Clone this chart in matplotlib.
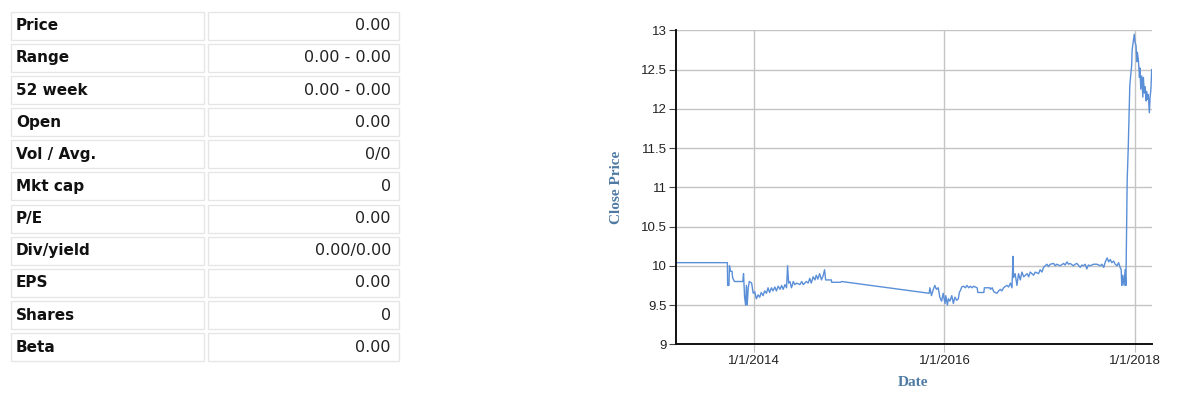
import matplotlib
matplotlib.use("Agg")
import matplotlib.pyplot as plt
import matplotlib.dates as mdates
from matplotlib.patches import Rectangle
import pandas as pd

# quote table
row_labels = ["Price", "Range", "52 week", "Open", "Vol / Avg.", "Mkt cap",
              "P/E", "Div/yield", "EPS", "Shares", "Beta"]
row_values = ["0.00", "0.00 - 0.00", "0.00 - 0.00", "0.00", "0/0", "0",
              "0.00", "0.00/0.00", "0.00", "0", "0.00"]

# close price series
dates = [
    "2013-03-08", "2013-09-20", "2013-09-21", "2013-09-26", "2013-09-28", "2013-10-02",
    "2013-10-08", "2013-10-10", "2013-10-17", "2013-11-18", "2013-11-21", "2013-11-25",
    "2013-11-29", "2013-12-02", "2013-12-05", "2013-12-09", "2013-12-13", "2013-12-22",
    "2013-12-28", "2014-01-03", "2014-01-09", "2014-01-16", "2014-01-22", "2014-01-28",
    "2014-02-04", "2014-02-10", "2014-02-17", "2014-02-23", "2014-03-01", "2014-03-08",
    "2014-03-14", "2014-03-21", "2014-03-27", "2014-04-03", "2014-04-10", "2014-04-16",
    "2014-04-22", "2014-04-29", "2014-05-05", "2014-05-09", "2014-05-13", "2014-05-18",
    "2014-05-24", "2014-05-31", "2014-06-06", "2014-06-13", "2014-06-25", "2014-07-02",
    "2014-07-08", "2014-07-20", "2014-07-27", "2014-08-02", "2014-08-08", "2014-08-15",
    "2014-08-22", "2014-08-27", "2014-09-02", "2014-09-09", "2014-09-16", "2014-09-22",
    "2014-09-28", "2014-10-02", "2014-10-24", "2014-10-25", "2014-11-28", "2014-12-02",
    "2015-11-03", "2015-11-06", "2015-11-12", "2015-11-19", "2015-11-25", "2015-12-01",
    "2015-12-08", "2015-12-14", "2015-12-21", "2015-12-27", "2016-01-03", "2016-01-06",
    "2016-01-12", "2016-01-16", "2016-01-22", "2016-01-29", "2016-02-04", "2016-02-10",
    "2016-02-17", "2016-02-23", "2016-02-27", "2016-03-04", "2016-03-07", "2016-03-14",
    "2016-03-21", "2016-03-27", "2016-04-03", "2016-04-09", "2016-04-16", "2016-04-22",
    "2016-04-29", "2016-05-05", "2016-05-08", "2016-05-31", "2016-06-02", "2016-06-23",
    "2016-06-25", "2016-07-02", "2016-07-08", "2016-07-20", "2016-07-27", "2016-08-02",
    "2016-08-08", "2016-08-15", "2016-08-22", "2016-08-28", "2016-09-03", "2016-09-10",
    "2016-09-16", "2016-09-20", "2016-09-22", "2016-09-28", "2016-10-05", "2016-10-11",
    "2016-10-18", "2016-10-24", "2016-10-31", "2016-11-13", "2016-11-19", "2016-11-25",
    "2016-12-08", "2016-12-14", "2016-12-27", "2017-01-02", "2017-01-09", "2017-01-15",
    "2017-01-28", "2017-02-03", "2017-02-10", "2017-02-23", "2017-03-01", "2017-03-07",
    "2017-03-20", "2017-04-02", "2017-04-08", "2017-04-15", "2017-04-21", "2017-04-27",
    "2017-05-10", "2017-05-16", "2017-05-23", "2017-06-05", "2017-06-11", "2017-06-17",
    "2017-06-24", "2017-06-30", "2017-07-06", "2017-07-13", "2017-07-26", "2017-08-08",
    "2017-08-21", "2017-08-27", "2017-09-03", "2017-09-09", "2017-09-16", "2017-09-22",
    "2017-09-28", "2017-10-04", "2017-10-11", "2017-10-17", "2017-10-24", "2017-10-30",
    "2017-11-05", "2017-11-09", "2017-11-11", "2017-11-15", "2017-11-20", "2017-11-24",
    "2017-11-27", "2017-11-30", "2017-12-02", "2017-12-06", "2017-12-10", "2017-12-12",
    "2017-12-16", "2017-12-19", "2017-12-21", "2017-12-25", "2017-12-29", "2018-01-01",
    "2018-01-05", "2018-01-08", "2018-01-10", "2018-01-14", "2018-01-18", "2018-01-20",
    "2018-01-23", "2018-01-27", "2018-01-31", "2018-02-02", "2018-02-06", "2018-02-09",
    "2018-02-13", "2018-02-15", "2018-02-19", "2018-02-21", "2018-02-25", "2018-02-28",
    "2018-03-03", "2018-03-06",
]
close = [
    10.04, 10.04, 9.75, 9.75, 10.00, 9.93,
    9.93, 9.85, 9.80, 9.80, 9.90, 9.60,
    9.50, 9.75, 9.50, 9.72, 9.80, 9.78,
    9.65, 9.67, 9.58, 9.63, 9.60, 9.66,
    9.62, 9.68, 9.65, 9.72, 9.66, 9.72,
    9.68, 9.73, 9.68, 9.74, 9.70, 9.75,
    9.70, 9.76, 9.72, 10.00, 9.78, 9.80,
    9.72, 9.80, 9.76, 9.78, 9.76, 9.80,
    9.76, 9.80, 9.78, 9.84, 9.78, 9.86,
    9.82, 9.88, 9.83, 9.90, 9.82, 9.87,
    9.95, 9.82, 9.82, 9.79, 9.79, 9.80,
    9.65, 9.72, 9.62, 9.70, 9.75, 9.70,
    9.72, 9.60, 9.55, 9.65, 9.52, 9.62,
    9.50, 9.58, 9.55, 9.62, 9.52, 9.60,
    9.56, 9.58, 9.66, 9.70, 9.73, 9.74,
    9.72, 9.75, 9.72, 9.74, 9.72, 9.74,
    9.73, 9.72, 9.66, 9.66, 9.72, 9.72,
    9.70, 9.72, 9.67, 9.65, 9.68, 9.70,
    9.68, 9.72, 9.74, 9.75, 9.73, 9.78,
    9.72, 10.12, 9.85, 9.90, 9.75, 9.90,
    9.82, 9.92, 9.86, 9.90, 9.86, 9.92,
    9.88, 9.92, 9.90, 9.95, 9.92, 9.98,
    10.02, 9.99, 10.02, 10.03, 10.00, 10.02,
    10.00, 10.03, 10.01, 10.05, 10.02, 10.03,
    10.00, 10.02, 10.03, 9.98, 10.01, 10.00,
    10.02, 9.96, 10.01, 10.00, 10.02, 10.02,
    10.00, 10.02, 9.98, 10.05, 10.10, 10.05,
    10.08, 10.04, 10.06, 10.02, 10.00, 10.04,
    9.98, 9.95, 9.75, 9.88, 9.75, 9.95,
    9.75, 10.50, 11.10, 11.50, 12.00, 12.30,
    12.45, 12.55, 12.75, 12.85, 12.95, 12.85,
    12.80, 12.60, 12.72, 12.62, 12.40, 12.52,
    12.25, 12.42, 12.15, 12.40, 12.20, 12.28,
    12.10, 12.22, 12.12, 12.18, 11.95, 12.15,
    12.25, 12.50,
]
x_ticks = ["2014-01-01", "2016-01-01", "2018-01-01"]
x_ticklabels = ["1/1/2014", "1/1/2016", "1/1/2018"]
y_ticks = [9, 9.5, 10, 10.5, 11, 11.5, 12, 12.5, 13]
y_ticklabels = ["9", "9.5", "10", "10.5", "11", "11.5", "12", "12.5", "13"]

W, H = 1179, 411
fig = plt.figure(figsize=(W / 100, H / 100), dpi=100)

# table drawn in pixel coords
tab = fig.add_axes([0, 0, 1, 1])
tab.set_xlim(0, W)
tab.set_ylim(H, 0)
tab.axis("off")
top0 = 11.7
step = 32.16
cell_h = 28.0
for i in range(len(row_labels)):
    top = top0 + i * step
    tab.add_patch(Rectangle((11, top), 193, cell_h, fill=False, ec="#e6e6e6", lw=1))
    tab.add_patch(Rectangle((208, top), 191, cell_h, fill=False, ec="#e6e6e6", lw=1))
    tab.text(16, top + cell_h / 2, row_labels[i], ha="left", va="center",
             fontsize=11, fontweight="bold", family="DejaVu Sans", color="#111111")
    tab.text(391, top + cell_h / 2, row_values[i], ha="right", va="center",
             fontsize=11.5, family="DejaVu Sans", color="#222222")

# chart
ax = fig.add_axes([676.3 / W, 1 - 344.3 / H, (1151.7 - 676.3) / W, (344.3 - 30.3) / H])
ax.plot(pd.to_datetime(dates), close, color="#5a8fd8", lw=1.0)
ax.set_xlim(pd.Timestamp("2013-03-08"), pd.Timestamp("2018-03-06"))
ax.set_ylim(9, 13)
ax.set_xticks(pd.to_datetime(x_ticks))
ax.set_xticklabels(x_ticklabels)
ax.set_yticks(y_ticks)
ax.set_yticklabels(y_ticklabels)
ax.grid(True, color="#c4c4c4", lw=1)
ax.set_axisbelow(True)
for s in ["top", "right"]:
    ax.spines[s].set_visible(False)
for s in ["left", "bottom"]:
    ax.spines[s].set_color("#111111")
    ax.spines[s].set_linewidth(1.4)
ax.tick_params(axis="x", length=6, color="#c4c4c4", labelsize=9.5, labelcolor="#222222", pad=2)
ax.tick_params(axis="y", length=5, color="#444444", labelsize=9.5, labelcolor="#222222", pad=2)
for lab in ax.get_xticklabels() + ax.get_yticklabels():
    lab.set_family("Liberation Sans")

fig.text(616 / W, 1 - 187 / H, "Close Price", rotation=90, ha="center", va="center",
         fontsize=11, fontweight="bold", family="Liberation Serif", color="#4f7aa3")
fig.text(913 / W, 1 - 382 / H, "Date", ha="center", va="center",
         fontsize=11, fontweight="bold", family="Liberation Serif", color="#4f7aa3")

fig.savefig("out.png", dpi=100)
